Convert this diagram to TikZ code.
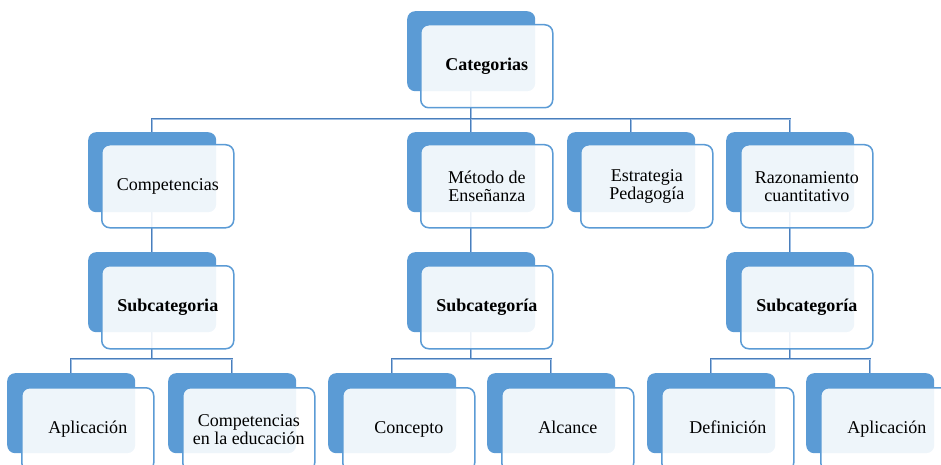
\documentclass[tikz,border=0pt]{standalone}
\usepackage{fontspec}
\setmainfont{Liberation Serif}
\definecolor{bk}{HTML}{5B9BD5}
\definecolor{ln}{HTML}{4A7EBB}
\definecolor{lnin}{HTML}{9DBDE3}
\pgfdeclarelayer{bg}
\pgfsetlayers{bg,main}
\tikzset{
 back/.style={draw=none, fill=bk, rounded corners=8pt, minimum width=128pt, minimum height=80pt, anchor=north west, inner sep=0pt},
 front/.style={draw=bk, line width=1.5pt, fill=white, fill opacity=0.9, text opacity=1, rounded corners=8pt, minimum width=132pt, minimum height=83pt, anchor=north west, align=center, font=\fontsize{18}{18}\selectfont, inner sep=0pt},
 one/.style={front, text height=12.5pt, text depth=4pt},
 conn/.style={draw=ln, double=lnin, line width=0.9pt, double distance=0.6pt}
}
\begin{document}
\begin{tikzpicture}[x=1pt,y=-1pt]
\useasboundingbox (0,0) rectangle (941,465);
\clip (0,0) rectangle (941,465);
% row 0
\node[back] (cat) at (407,11) {};
\node[one] (catF) at (420,24) {\textbf{Categorias}};
% row 1
\node[back] (comp) at (88,132) {};
\node[one] (compF) at (101,144) {Competencias};
\node[back] (met) at (407,132) {};
\node[front] (metF) at (420,144) {Método de\\Enseñanza};
\node[back] (est) at (567,132) {};
\node[front] (estF) at (580,144) {Estrategia\\Pedagogía};
\node[back] (raz) at (726,132) {};
\node[front] (razF) at (740,144) {Razonamiento\\cuantitativo};
% row 2
\node[back] (sa) at (88,252) {};
\node[one] (saF) at (101,265) {\textbf{Subcategoria}};
\node[back] (sb) at (407,252) {};
\node[one] (sbF) at (420,265) {\textbf{Subcategoría}};
\node[back] (sc) at (726,252) {};
\node[one] (scF) at (740,265) {\textbf{Subcategoría}};
% row 3
\node[back] (la) at (7,373) {};
\node[one] (laF) at (21,387) {Aplicación};
\node[back] (lb) at (168,373) {};
\node[front] (lbF) at (182,387) {Competencias\\en la educación};
\node[back] (lc) at (328,373) {};
\node[one] (lcF) at (342,387) {Concepto};
\node[back] (ld) at (487,373) {};
\node[one] (ldF) at (501,387) {Alcance};
\node[back] (le) at (647,373) {};
\node[one] (leF) at (661,387) {Definición};
\node[back] (lf) at (806,373) {};
\node[one] (lfF) at (820,387) {Aplicación};
\coordinate (bus1) at (0,119);
\coordinate (bus2) at (0,359);
\begin{pgfonlayer}{bg}
\draw[conn] (cat.south) -- (cat.south |- bus1);
\draw[conn] (comp.north) |- (bus1 -| raz.north) -- (raz.north);
\draw[conn] (met.north) -- (met.north |- bus1);
\draw[conn] (est.north) -- (est.north |- bus1);
\draw[conn] (comp.south) -- (sa.north);
\draw[conn] (met.south) -- (sb.north);
\draw[conn] (raz.south) -- (sc.north);
\draw[conn] (sa.south) -- (sa.south |- bus2);
\draw[conn] (sb.south) -- (sb.south |- bus2);
\draw[conn] (sc.south) -- (sc.south |- bus2);
\draw[conn] (la.north) |- (bus2 -| lb.north) -- (lb.north);
\draw[conn] (lc.north) |- (bus2 -| ld.north) -- (ld.north);
\draw[conn] (le.north) |- (bus2 -| lf.north) -- (lf.north);
\end{pgfonlayer}
\end{tikzpicture}
\end{document}
